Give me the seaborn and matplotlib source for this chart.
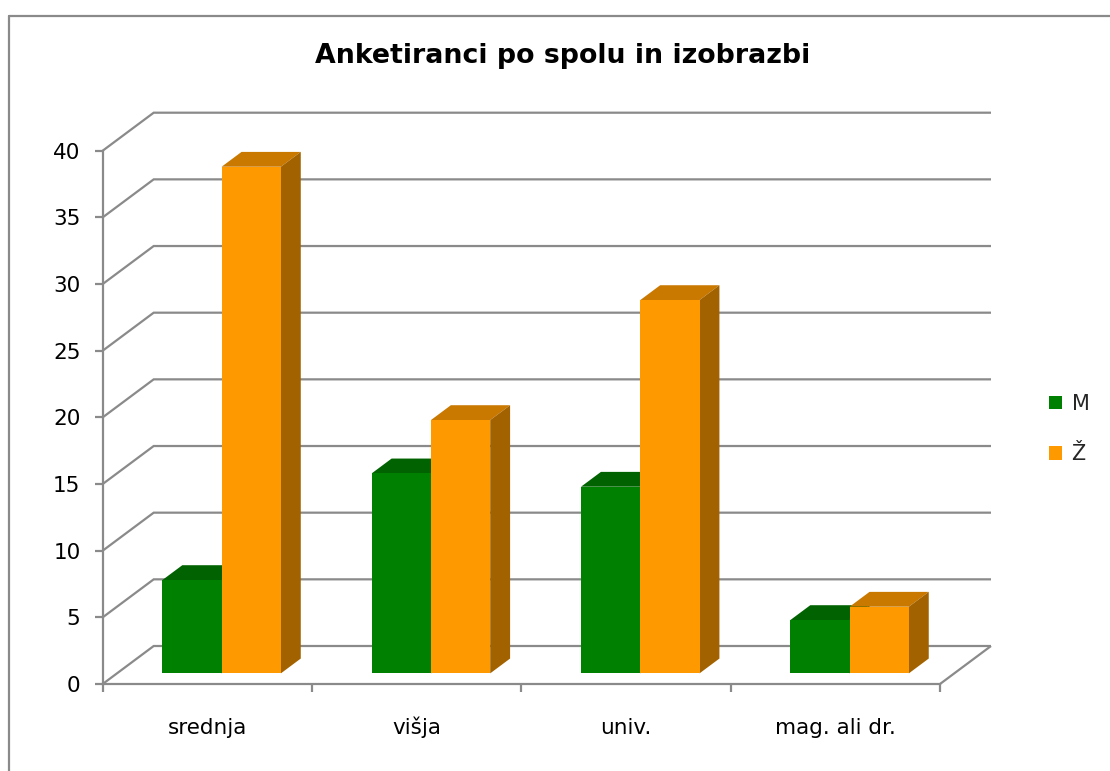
import numpy as np
import pandas as pd
import matplotlib
matplotlib.use("Agg")
import matplotlib.pyplot as plt
import seaborn as sns
from matplotlib.patches import Polygon
from matplotlib.lines import Line2D
from matplotlib.transforms import Affine2D

# ---------------- data ----------------
categories = ["srednja", "višja", "univ.", "mag. ali dr."]
series_names = ["M", "Ž"]
values_M = [7, 15, 14, 4]
values_Z = [38, 19, 28, 5]
y_ticks = [0, 5, 10, 15, 20, 25, 30, 35, 40]
title_text = "Anketiranci po spolu in izobrazbi"

# ---------------- style ----------------
front_colors = ["#008000", "#ff9900"]
top_colors = ["#006200", "#c97800"]
side_colors = ["#004f00", "#a36200"]
grid_color = "#8a8a8a"

df = pd.DataFrame({
    "izobrazba": categories * 2,
    "spol": [series_names[0]] * len(categories) + [series_names[1]] * len(categories),
    "stevilo": values_M + values_Z,
})

sns.set_theme(style="white")
plt.rcParams["font.family"] = ["DejaVu Sans"]

W, H = 1110, 771
fig = plt.figure(figsize=(W / 100, H / 100), dpi=100)
fig.patch.set_facecolor("white")

# layout of the 3-D box (pixels)
fx0, fx1 = 102.7, 940.0          # front plane x extent
fy0, fy40 = 684.0, 150.7         # front plane y for 0 and 40
dpx, dpy = 51.0, 38.0            # depth offset of the back wall
ymax_tick = y_ticks[-1]
ncat = len(categories)

px_per_cat = (fx1 - fx0) / ncat
px_per_unit = (fy0 - fy40) / ymax_tick
Dx = dpx / px_per_cat
Dy = dpy / px_per_unit

ax = fig.add_axes([fx0 / W, 1 - fy0 / H,
                   (fx1 + dpx - fx0) / W, (fy0 - (fy40 - dpy)) / H])
ax.patch.set_alpha(0)

sns.barplot(data=df, x="izobrazba", y="stevilo", hue="spol",
            order=categories, hue_order=series_names,
            palette=front_colors, saturation=1, width=0.566,
            linewidth=0, ax=ax)

ax.set_xlim(-0.5, ncat - 0.5 + Dx)
ax.set_ylim(0, ymax_tick + Dy)

# ---------------- back wall & floor ----------------
lw = 1.6
for v in y_ticks:
    ax.plot([-0.5, -0.5 + Dx, ncat - 0.5 + Dx], [v, v + Dy, v + Dy],
            color=grid_color, lw=lw, zorder=1, clip_on=False,
            solid_joinstyle="miter", solid_capstyle="butt")
ax.plot([ncat - 0.5, ncat - 0.5 + Dx], [0, Dy], color=grid_color, lw=lw,
        zorder=1, clip_on=False, solid_capstyle="butt")

# ---------------- 3-D bars ----------------
d0, d1 = 0.28, 0.67
o0x, o0y = d0 * Dx, d0 * Dy
o1x, o1y = d1 * Dx, d1 * Dy
for i, cont in enumerate(ax.containers):
    for bar in cont:
        x = bar.get_x()
        w = bar.get_width()
        h = bar.get_height()
        bar.set_transform(Affine2D().translate(o0x, o0y) + ax.transData)
        bar.set_zorder(3 + i + 0.2)
        bar.set_clip_on(False)
        top = Polygon([(x + o0x, h + o0y), (x + w + o0x, h + o0y),
                       (x + w + o1x, h + o1y), (x + o1x, h + o1y)],
                      closed=True, facecolor=top_colors[i], edgecolor="none",
                      zorder=3 + i, clip_on=False)
        side = Polygon([(x + w + o0x, o0y), (x + w + o1x, o1y),
                        (x + w + o1x, h + o1y), (x + w + o0x, h + o0y)],
                       closed=True, facecolor=side_colors[i], edgecolor="none",
                       zorder=3 + i + 0.1, clip_on=False)
        ax.add_patch(top)
        ax.add_patch(side)

# ---------------- axes ----------------
for s in ["top", "right"]:
    ax.spines[s].set_visible(False)
for s in ["left", "bottom"]:
    ax.spines[s].set_color(grid_color)
    ax.spines[s].set_linewidth(lw)
    ax.spines[s].set_zorder(2)
ax.spines["left"].set_bounds(0, ymax_tick)
ax.spines["bottom"].set_bounds(-0.5, ncat - 0.5)

ax.set_yticks(y_ticks)
ax.set_yticklabels([str(v) for v in y_ticks])
ax.tick_params(axis="y", direction="out", length=6, width=lw, color=grid_color,
               labelsize=15.5, labelcolor="black", pad=10, left=True)

ax.set_xticks(np.arange(ncat + 1) - 0.5)
ax.set_xticklabels([""] * (ncat + 1))
ax.set_xticks(np.arange(ncat), minor=True)
ax.set_xticklabels(categories, minor=True)
ax.tick_params(axis="x", which="major", direction="out", length=6, width=lw,
               color=grid_color, bottom=True)
ax.tick_params(axis="x", which="minor", length=0, labelsize=15.5,
               labelcolor="black", pad=36, bottom=True)
for lab in ax.get_xticklabels(minor=True):
    lab.set_verticalalignment("baseline")
ax.set_xlabel("")
ax.set_ylabel("")
ax.grid(False)

# ---------------- legend ----------------
sns.move_legend(ax, "center left", bbox_to_anchor=(1049 / W, 1 - 429 / H),
                bbox_transform=fig.transFigure, frameon=False, title="",
                fontsize=15, handlelength=0.63, handleheight=0.63,
                handletextpad=0.45, labelspacing=1.45, borderpad=0,
                borderaxespad=0)

# ---------------- title & chart border ----------------
fig.text(563 / W, 1 - 56 / H, title_text, ha="center", va="center",
         fontsize=19.3, fontweight="bold", color="black")

fig.add_artist(Line2D([8.5 / W, 8.5 / W], [0, 1 - 15.5 / H],
                      transform=fig.transFigure, color="#8a8a8a", lw=1.6))
fig.add_artist(Line2D([8.5 / W, 1], [1 - 15.5 / H, 1 - 15.5 / H],
                      transform=fig.transFigure, color="#8a8a8a", lw=1.6))

fig.savefig("out.png", dpi=100)
